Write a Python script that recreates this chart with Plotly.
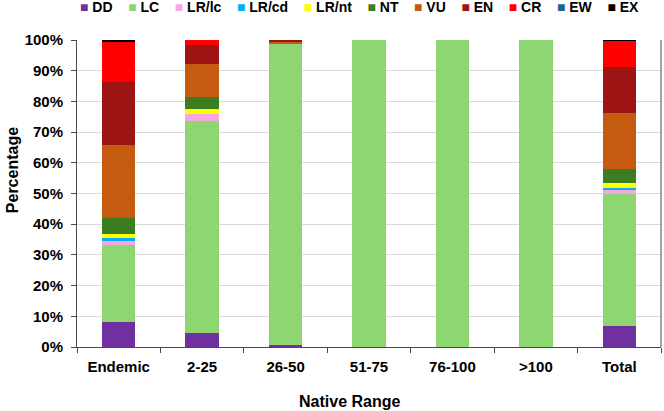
import plotly.graph_objects as go

categories = ["Endemic", "2-25", "26-50", "51-75", "76-100", ">100", "Total"]
statuses = ["DD", "LC", "LR/lc", "LR/cd", "LR/nt", "NT", "VU", "EN", "CR", "EW", "EX"]

DD = [8.2, 4.7, 0.6, 0, 0, 0, 6.8]
LC = [25.0, 68.9, 98.3, 100, 100, 100, 42.9]
LR_lc = [1.3, 2.3, 0, 0, 0, 0, 1.4]
LR_cd = [0.9, 0, 0, 0, 0, 0, 0.8]
LR_nt = [1.4, 1.6, 0, 0, 0, 0, 1.4]
NT = [5.1, 4.0, 0, 0, 0, 0, 4.6]
VU = [23.9, 10.6, 0.6, 0, 0, 0, 18.4]
EN = [20.4, 6.3, 0.5, 0, 0, 0, 14.8]
CR = [13.1, 1.6, 0, 0, 0, 0, 8.6]
EW = [0, 0, 0, 0, 0, 0, 0]
EX = [0.7, 0, 0, 0, 0, 0, 0.3]

series = [DD, LC, LR_lc, LR_cd, LR_nt, NT, VU, EN, CR, EW, EX]
colors = ["#7030A0", "#8DD672", "#F4A8DE", "#00B0F0", "#FFFF00", "#3C7D22",
          "#C55A11", "#9C1414", "#FF0000", "#1F6391", "#000000"]

FONT = "Liberation Sans, Arial, sans-serif"
AXC = "#4a4a4a"

fig = go.Figure()
for name, vals, col in zip(statuses, series, colors):
    fig.add_trace(go.Bar(x=categories, y=vals, name=name, marker_color=col,
                         marker_line_width=0, showlegend=False))

fig.update_layout(
    barmode="stack", bargap=0.6,
    width=664, height=411,
    margin=dict(l=77, r=3, t=40, b=64),
    plot_bgcolor="white", paper_bgcolor="white",
    font=dict(family=FONT, size=15, color="#000000"),
)
fig.update_xaxes(
    showline=True, linecolor=AXC, linewidth=1,
    ticks="outside", tickson="boundaries", ticklen=5, tickcolor=AXC,
    tickfont=dict(family=FONT, size=15, color="#000", weight="bold"),
    ticklabelstandoff=6,
)
fig.update_yaxes(
    range=[0, 100], dtick=10, ticksuffix="%",
    showline=True, linecolor=AXC, linewidth=1,
    ticks="outside", ticklen=5, tickcolor=AXC,
    showgrid=True, gridcolor="#D9D9D9", gridwidth=1,
    tickfont=dict(family=FONT, size=15, color="#000", weight="bold"),
    ticklabelstandoff=5, zeroline=False,
)

# right border line of plot area
fig.add_shape(type="line", xref="paper", yref="paper", x0=1, x1=1, y0=0, y1=1,
              line=dict(color=AXC, width=1))

# legend as annotation
sep = "\u00a0\u00a0\u00a0\u00a0"
legend_text = sep.join(
    f"<span style='color:{c}'>■</span>\u00a0<b>{n}</b>" for n, c in zip(statuses, colors)
)
fig.add_annotation(text=legend_text, xref="paper", yref="paper", x=0.0017, y=1.108,
                   xanchor="left", yanchor="middle", showarrow=False,
                   font=dict(family=FONT, size=14, color="#000"))

fig.add_annotation(text="<b>Native Range</b>", xref="paper", yref="paper",
                   x=0.4666, y=-0.176, xanchor="center", yanchor="middle", showarrow=False,
                   font=dict(family=FONT, size=16, color="#000"))
fig.add_annotation(text="<b>Percentage</b>", xref="paper", yref="paper",
                   x=-0.111, y=0.5765, xanchor="center", yanchor="middle", showarrow=False,
                   textangle=-90, font=dict(family=FONT, size=16, color="#000"))

fig.write_html("out.html")
